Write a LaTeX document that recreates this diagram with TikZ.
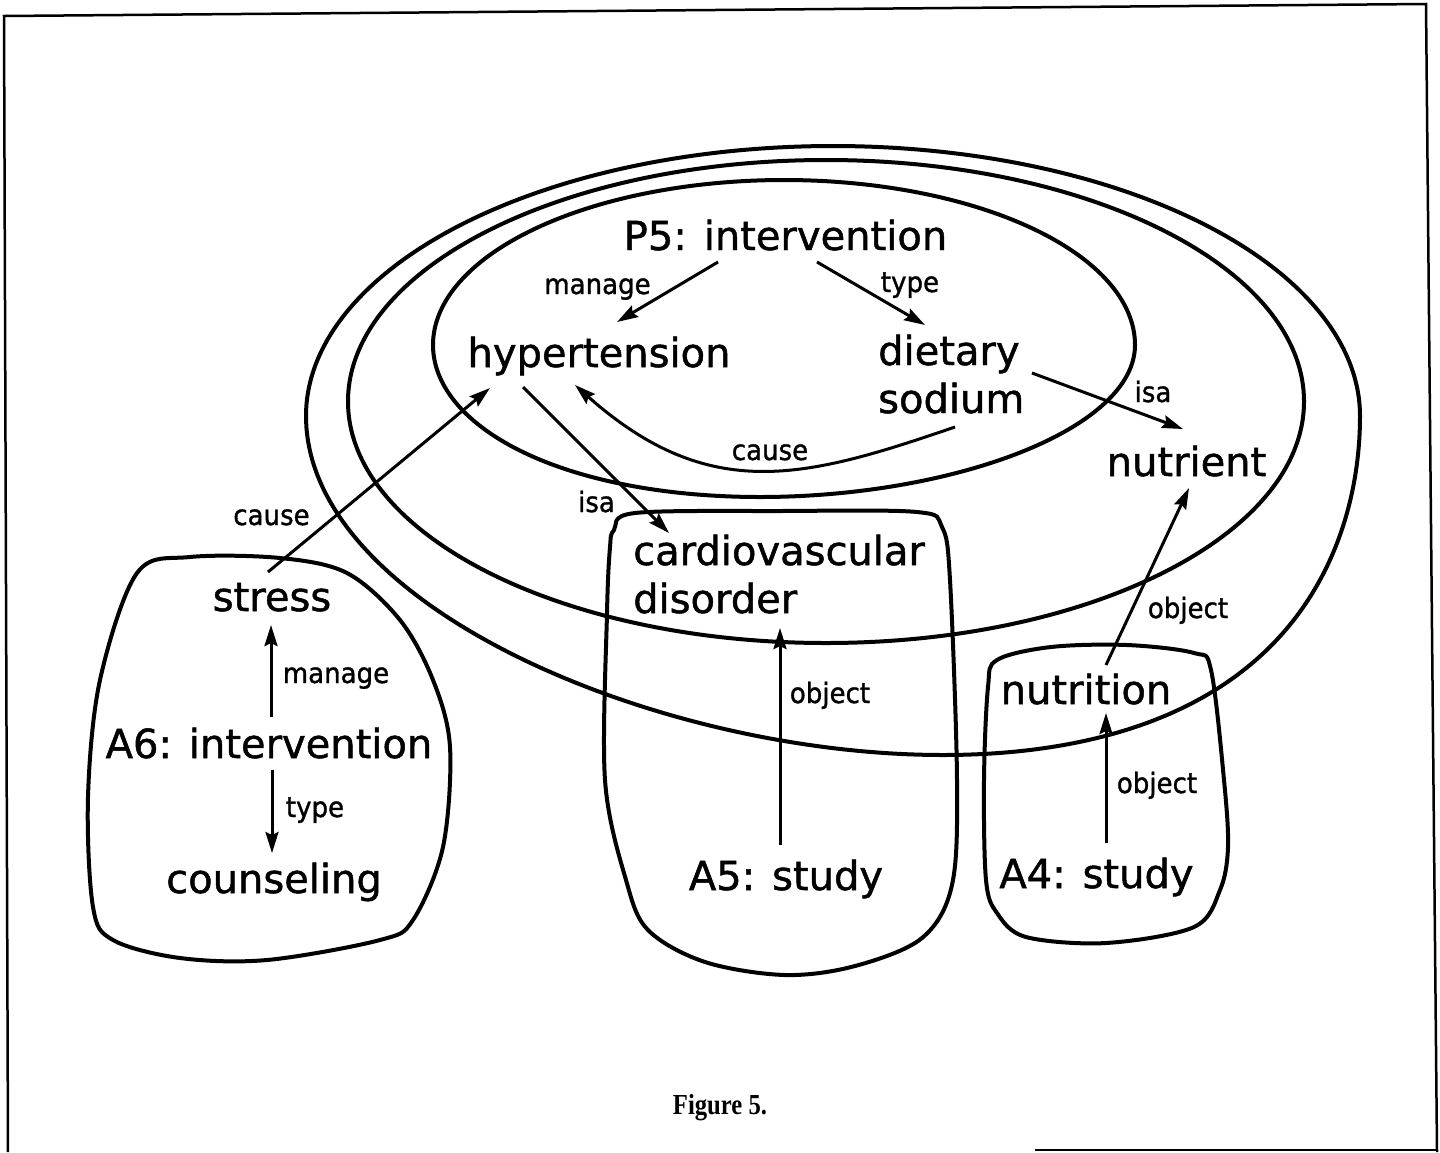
\documentclass[tikz,border=0pt]{standalone}
\usepackage{fontspec}
\usetikzlibrary{arrows.meta}
\newfontfamily\bigf[FakeBold=1.2]{DejaVu Sans}
\newfontfamily\labf[FakeStretch=0.93,FakeBold=1.2]{DejaVu Sans}
\newfontfamily\capf[FakeStretch=0.85]{Liberation Serif}
\tikzset{
  big/.style={font=\bigf\fontsize{40}{48}\selectfont, inner sep=0pt, anchor=base},
  bigml/.style={font=\bigf\fontsize{40}{48}\selectfont, inner sep=0pt, anchor=base west},
  lab/.style={font=\labf\fontsize{28}{30}\selectfont, inner sep=0pt, anchor=base},
  arr/.style={line width=3pt, -{Stealth[length=21pt,width=13pt,inset=3pt]}},
  blob/.style={line width=4pt},
  ring/.style={line width=4pt, line join=round},
  frame/.style={line width=2.5pt}
}
\begin{document}
\begin{tikzpicture}[x=1pt,y=-1pt]
\useasboundingbox (0,0) rectangle (1440,1152);
% frame
\draw[frame] (8,1152) -- (4,16) -- (1426,4) -- (1437,1152);
\draw[line width=2pt] (1035,1150) -- (1437,1150);
% outer ring: upper half ellipse, lower half slightly sheared
\draw[ring] plot[domain=0:180, samples=91, smooth]
   ({833+527*cos(\x)+110*sin(\x)*sin(\x)},{416+339*sin(\x)})
 -- plot[domain=180:360, samples=91, smooth]
   ({833+527*cos(\x)},{416+270*sin(\x)}) -- cycle;
% middle ring
\draw[ring] (826,401.5) ellipse [x radius=478pt, y radius=241.5pt];
% inner ring
\draw[ring] plot[domain=0:180, samples=91, smooth]
   ({784+351*cos(\x)-24*sin(\x)*sin(\x)},{345+152*sin(\x)})
 -- plot[domain=180:360, samples=91, smooth]
   ({784+351*cos(\x)},{345+165*sin(\x)}) -- cycle;
% blobs
\draw[blob] plot[smooth cycle, tension=0.55] coordinates {
 (137,573) (190,557) (280,558) (347,573) (400,620) (433,680) (450,747) (443,847)
 (413,920) (380,940) (267,960) (180,958) (113,940) (93,907) (88,797) (100,680)};
\draw[blob] plot[smooth cycle, tension=0.55] coordinates {
 (614,530) (635,513) (780,511) (917,512) (942,527) (950,580) (957,780) (952,885)
 (922,938) (855,966) (785,975) (705,962) (648,930) (626,880) (605,780) (607,613) (610,547)};
\draw[blob] plot[smooth cycle, tension=0.55] coordinates {
 (997,660) (1051,647) (1127,645) (1194,653) (1211,670) (1224,780) (1228,847) (1220,890)
 (1194,927) (1106,943) (1026,937) (997,913) (986,880) (984,780) (988,687)};
% concept nodes
\node[big] (p5) at (785.5,250) {P5: intervention};
\node[big] (hyp) at (599,367) {hypertension};
\node[bigml] (diet) at (878,413) {\begin{tabular}[b]{@{}l@{}}dietary\\sodium\end{tabular}};
\node[big] (nutrient) at (1186.5,476) {nutrient};
\node[bigml] (cardio) at (633,613) {\begin{tabular}[b]{@{}l@{}}cardiovascular\\disorder\end{tabular}};
\node[big] (stress) at (272,611) {stress};
\node[big] (a6) at (269,758) {A6: intervention};
\node[big] (couns) at (274,893) {counseling};
\node[big] (nutrition) at (1086,704) {nutrition};
\node[big] (a5) at (786,890) {A5: study};
\node[big] (a4) at (1096.5,888) {A4: study};
% connectors
\draw[arr] ([shift={(-67.5,12)}]p5.base) -- ([shift={(18,-45)}]hyp.base);
\draw[arr] ([shift={(31.5,12)}]p5.base) -- ([shift={(47,-88)}]diet.base west);
\draw[arr] ([shift={(154,-40)}]diet.base west) -- ([shift={(-3.5,-47)}]nutrient.base);
\draw[arr] ([shift={(77,14)}]diet.base west) .. controls (806.5,477.8) and (710,505) .. ([shift={(-24,18)}]hyp.base);
\draw[arr] ([shift={(-4,-39)}]stress.base) -- ([shift={(-109,21)}]hyp.base);
\draw[arr] ([shift={(-76,20)}]hyp.base) -- ([shift={(36,-80)}]cardio.base west);
\draw[arr] ([shift={(20,-39)}]nutrition.base) -- ([shift={(2.5,12)}]nutrient.base);
\draw[arr] ([shift={(-6,-45)}]a5.base) -- ([shift={(147,15)}]cardio.base west);
\draw[arr] ([shift={(9.5,-45)}]a4.base) -- ([shift={(20,9)}]nutrition.base);
\draw[arr] ([shift={(2,-41)}]a6.base) -- ([shift={(-1,14)}]stress.base);
\draw[arr] ([shift={(3,12)}]a6.base) -- ([shift={(-2,-40)}]couns.base);
% relation labels
\node[lab] (l1) at (597.5,294) {manage};
\node[lab] (l2) at (910,292) {type};
\node[lab] (l3) at (770,460) {cause};
\node[lab] (l4) at (1153,402) {isa};
\node[lab] (l5) at (271.5,525) {cause};
\node[lab] (l6) at (596.5,512) {isa};
\node[lab] (l7) at (1188,618) {object};
\node[lab] (l8) at (830,703) {object};
\node[lab] (l9) at (1157,793) {object};
\node[lab] (l10) at (336,683) {manage};
\node[lab] (l11) at (315,817) {type};
% caption
\node[font=\capf\bfseries\fontsize{29}{30}\selectfont, inner sep=0pt, anchor=base] (cap) at (720,1114) {Figure 5.};
\end{tikzpicture}
\end{document}
